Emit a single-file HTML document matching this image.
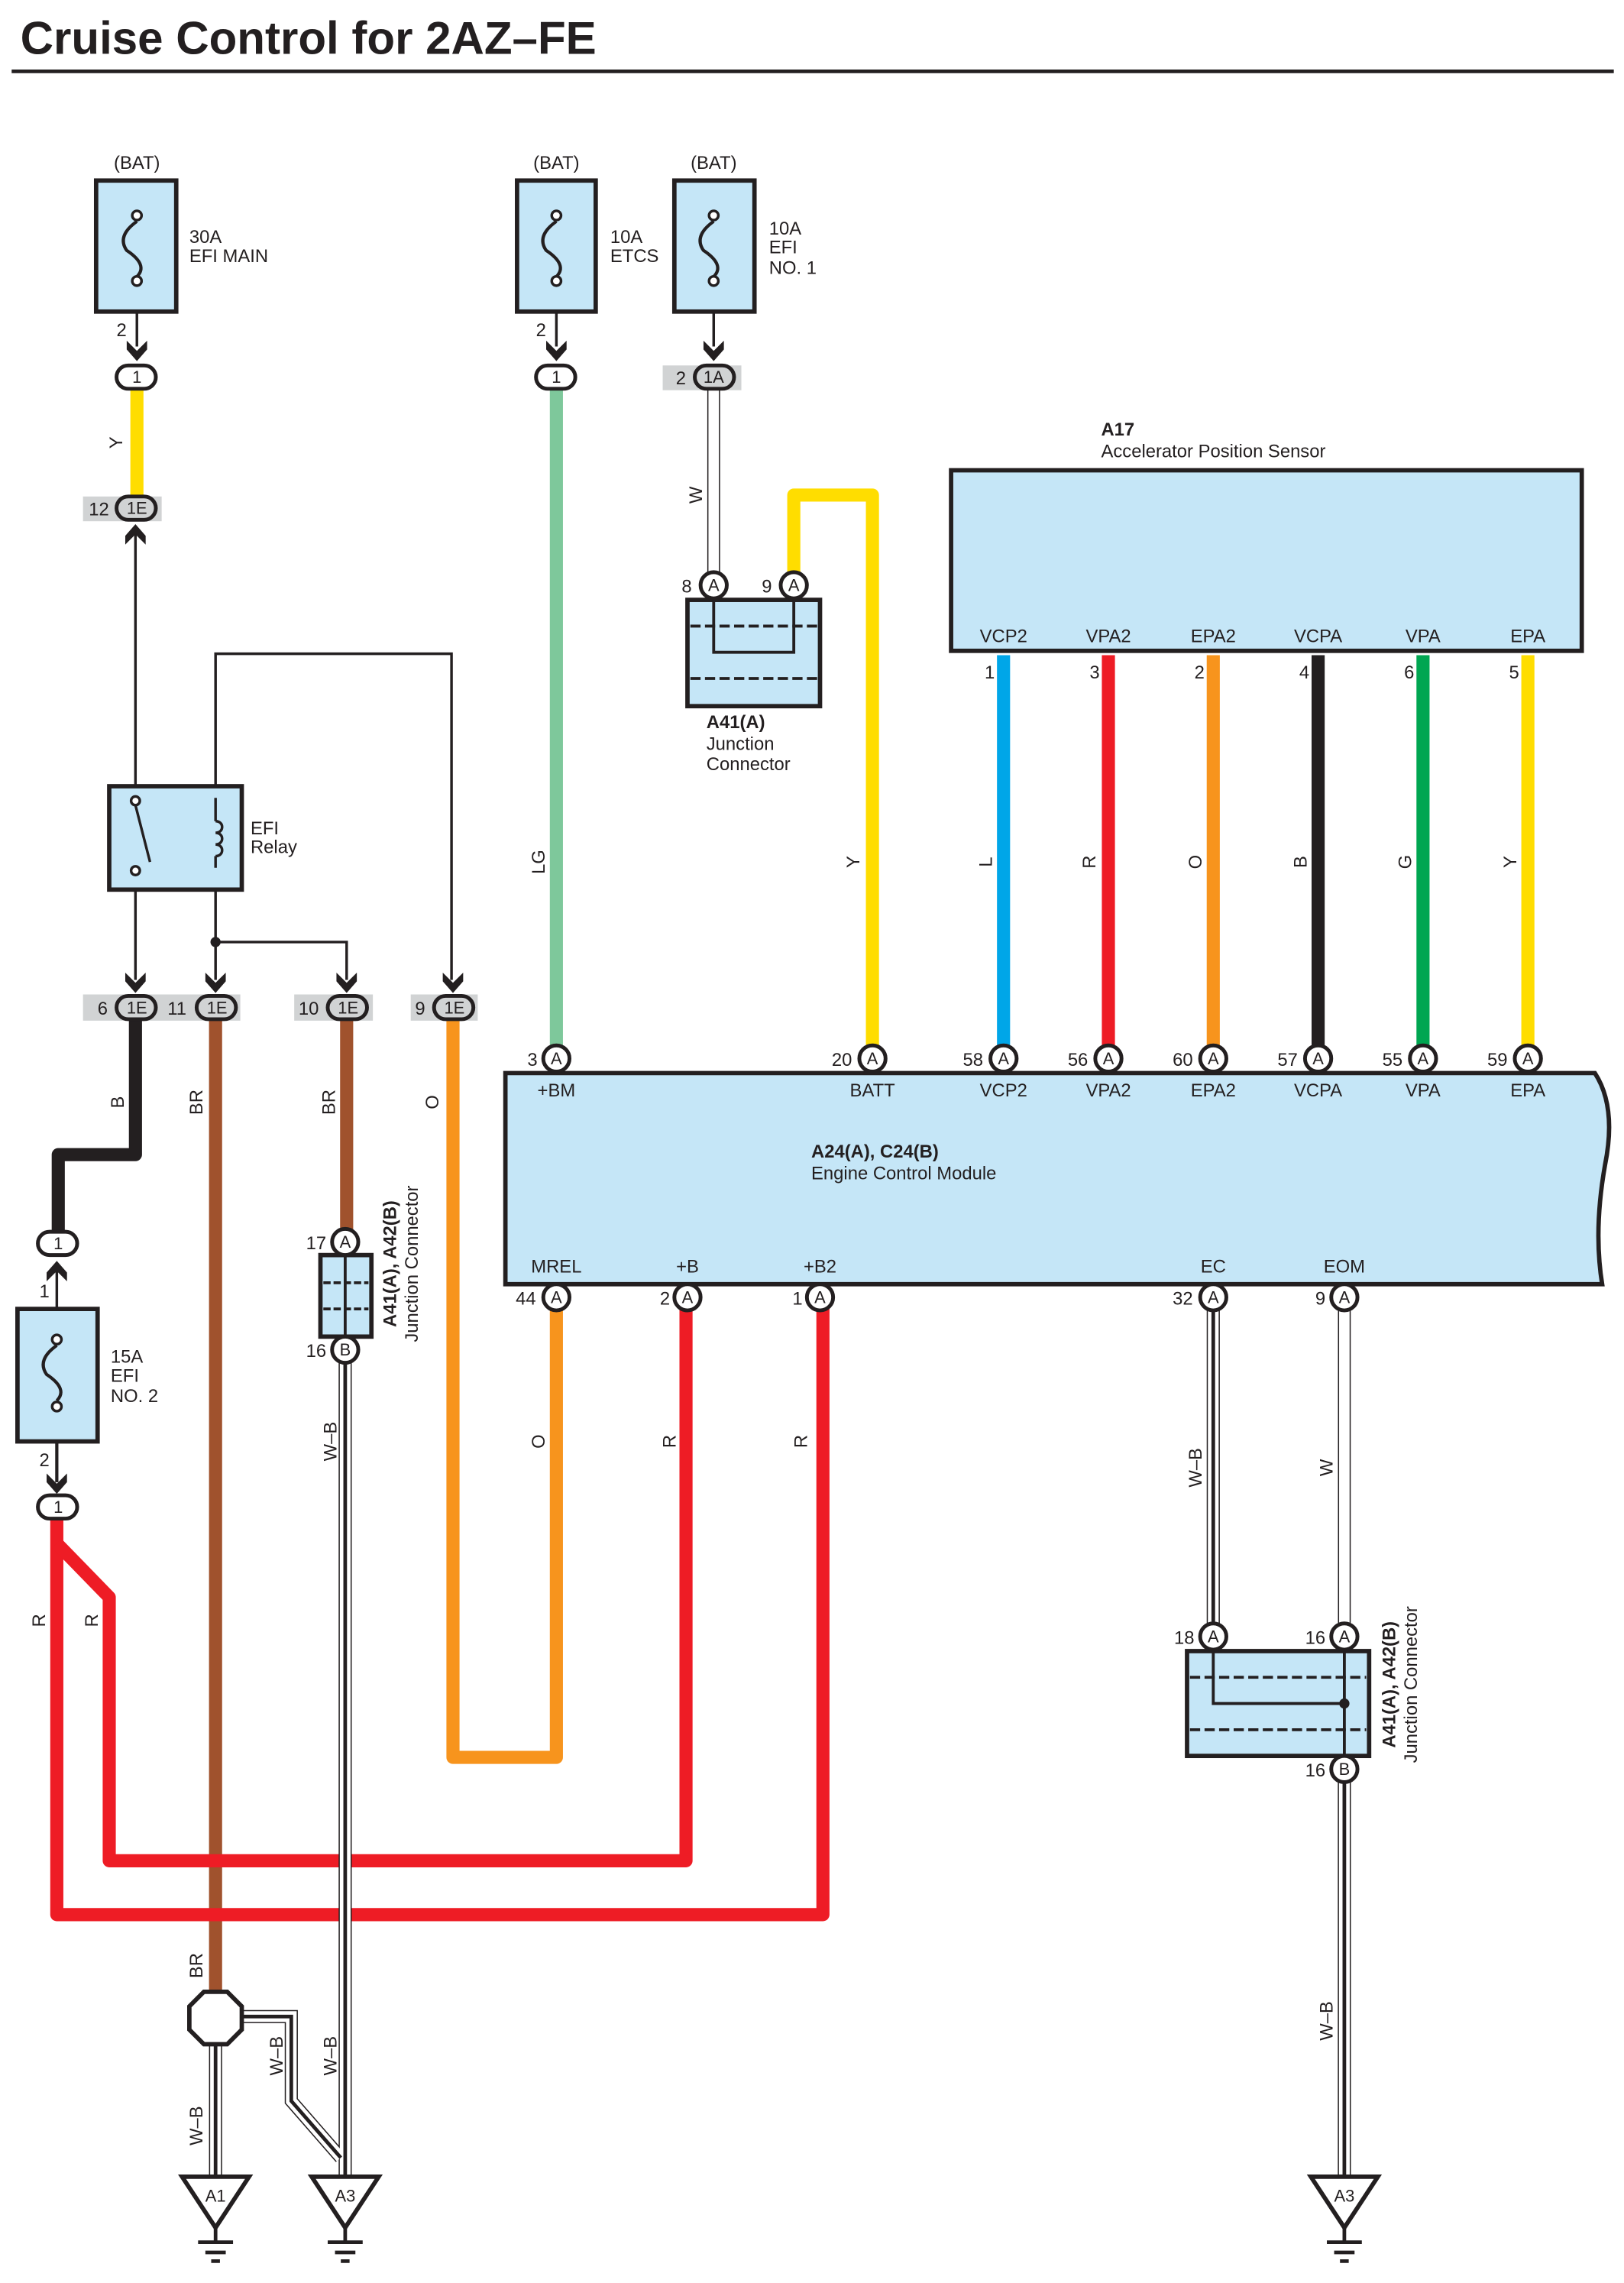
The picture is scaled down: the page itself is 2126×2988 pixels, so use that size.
<!DOCTYPE html>
<html><head><meta charset="utf-8"><style>
html,body{margin:0;padding:0;background:#fff}
svg{display:block}
text{font-family:"Liberation Sans",sans-serif;fill:#231f20}
.t{font-size:12.5px}
.p{font-size:11.5px;text-anchor:middle}
.b{font-weight:bold}
</style></head><body>
<svg width="2126" height="2988" viewBox="0 0 1115 1568" preserveAspectRatio="none" xmlns="http://www.w3.org/2000/svg">
<defs>
<g id="dn"><polygon points="-7,-8 0,-1 7,-8 7,-2 0,6 -7,-2" fill="#231f20"/></g>
<g id="up"><polygon points="-7,8 0,1 7,8 7,2 0,-6 -7,2" fill="#231f20"/></g>
</defs>
<!-- title -->
<text x="14" y="37" style="font-size:31.5px;font-weight:bold">Cruise Control for 2AZ–FE</text>
<line x1="8" y1="49" x2="1108" y2="49" stroke="#231f20" stroke-width="2.5"/>

<!-- grey connector backgrounds -->
<g fill="#d1d3d4">
<rect x="455" y="251" width="54" height="17"/>
<rect x="57" y="341" width="54" height="17"/>
<rect x="57" y="683" width="108" height="18"/>
<rect x="202" y="683" width="54" height="18"/>
<rect x="282" y="683" width="46" height="18"/>
</g>

<!-- colored wires -->
<g fill="none" stroke-linejoin="round" stroke-width="9">
<path d="M94,267 V341" stroke="#ffdd00"/>
<path d="M382,267 V720" stroke="#7ec89b"/>
<path d="M545,394 V340 H599 V720" stroke="#ffdd00"/>
<path d="M689,450 V720" stroke="#00a6e8"/>
<path d="M761,450 V720" stroke="#ee1c25"/>
<path d="M833,450 V720" stroke="#f7941d"/>
<path d="M905,450 V720" stroke="#231f20"/>
<path d="M977,450 V720" stroke="#00a651"/>
<path d="M1049,450 V720" stroke="#ffdd00"/>
<path d="M93,700 V793 H40 V846" stroke="#231f20"/>
<path d="M148,700 V1368" stroke="#a0522d"/>
<path d="M238,700 V845" stroke="#a0522d"/>
<path d="M311,700 V1207 H382 V898" stroke="#f7941d"/>
<path d="M39,1043 V1315 H565 V898" stroke="#ee1c25"/>
<path d="M39,1060 L75,1097 V1278 H471 V898" stroke="#ee1c25"/>
</g>

<!-- W double thin -->
<g fill="none" stroke="#231f20" stroke-width="0.8">
<line x1="486" y1="267" x2="486" y2="395"/><line x1="494" y1="267" x2="494" y2="395"/>
<line x1="919" y1="899" x2="919" y2="1116"/><line x1="927" y1="899" x2="927" y2="1116"/>
</g>
<!-- W-B wires -->
<g fill="none" stroke-linejoin="miter">
<g stroke="#231f20" stroke-width="9">
<path d="M237,936 V1495"/><path d="M833,899 V1116"/><path d="M923,1224 V1495"/><path d="M148,1403 V1495"/>
<path d="M166,1385 H200 V1443 L234,1482"/>
</g>
<g stroke="#fff" stroke-width="7.4">
<path d="M237,936 V1495"/><path d="M833,899 V1116"/><path d="M923,1224 V1495"/><path d="M148,1403 V1495"/>
<path d="M166,1385 H200 V1443 L234,1482"/>
</g>
<g stroke="#231f20" stroke-width="2.5">
<path d="M237,936 V1495"/><path d="M833,899 V1116"/><path d="M923,1224 V1495"/><path d="M148,1403 V1495"/>
<path d="M166,1385 H200 V1443 L234,1482"/>
</g>
</g>

<!-- thin black circuit lines -->
<g fill="none" stroke="#231f20" stroke-width="1.8">
<line x1="94" y1="195" x2="94" y2="238"/>
<line x1="382" y1="195" x2="382" y2="238"/>
<line x1="490" y1="195" x2="490" y2="238"/>
<line x1="93" y1="366" x2="93" y2="550"/>
<path d="M148,548 V449 H310 V673"/>
<line x1="93" y1="598" x2="93" y2="673"/>
<path d="M148,590 V673"/>
<path d="M148,647 H238 V673"/>
<line x1="39" y1="868" x2="39" y2="1018"/>
</g>
<circle cx="148" cy="647" r="3.5" fill="#231f20"/>

<!-- fuse boxes -->
<g fill="#c5e6f7" stroke="#231f20" stroke-width="3">
<rect x="66" y="124" width="55" height="90"/>
<rect x="355" y="124" width="54" height="90"/>
<rect x="463" y="124" width="55" height="90"/>
<rect x="12" y="899" width="55" height="91"/>
<rect x="75" y="540" width="91" height="71"/>
<rect x="472" y="412" width="91" height="73"/>
<rect x="653" y="323" width="433" height="124"/>
<rect x="220" y="862" width="35" height="56"/>
<rect x="815" y="1134" width="125" height="72"/>
</g>
<!-- ECM -->
<path d="M347,737 H1095 Q1110,760 1102,800 Q1094,845 1100,882 H347 Z" fill="#c5e6f7" stroke="#231f20" stroke-width="3"/>

<!-- fuse symbols -->
<g fill="none" stroke="#231f20" stroke-width="2.2">
<path d="M94,152 Q80,162 87,172 Q102,182 94,190"/>
<path d="M382,152 Q368,162 375,172 Q390,182 382,190"/>
<path d="M490,152 Q476,162 483,172 Q498,182 490,190"/>
<path d="M39,924 Q25,934 32,944 Q47,954 39,962"/>
<line x1="39" y1="990" x2="39" y2="1018"/>
</g>
<g fill="#fff" stroke="#231f20" stroke-width="1.8">
<circle cx="94" cy="148" r="3.2"/><circle cx="94" cy="193" r="3.2"/>
<circle cx="382" cy="148" r="3.2"/><circle cx="382" cy="193" r="3.2"/>
<circle cx="490" cy="148" r="3.2"/><circle cx="490" cy="193" r="3.2"/>
<circle cx="39" cy="920" r="3.2"/><circle cx="39" cy="966" r="3.2"/>
</g>

<!-- relay internals -->
<g fill="none" stroke="#231f20" stroke-width="1.8">
<line x1="93" y1="553" x2="103" y2="592"/>
<path d="M148,564 c6,0 6,8 0,8 c6,0 6,8 0,8 c6,0 6,8 0,8"/>
<path d="M148,548 V564 M148,588 V596"/>
</g>
<g fill="#fff" stroke="#231f20" stroke-width="1.8"><circle cx="93" cy="550" r="3"/><circle cx="93" cy="598" r="3"/></g>

<!-- junction A41 internals -->
<g fill="none" stroke="#231f20" stroke-width="2">
<line x1="474" y1="430" x2="561" y2="430" stroke-dasharray="7,3"/>
<line x1="474" y1="466" x2="561" y2="466" stroke-dasharray="7,3"/>
<path d="M490,412 V448 H545 V412"/>
<line x1="222" y1="881" x2="253" y2="881" stroke-dasharray="5,2"/>
<line x1="222" y1="899" x2="253" y2="899" stroke-dasharray="5,2"/>
<line x1="237" y1="862" x2="237" y2="918"/>
<line x1="817" y1="1152" x2="938" y2="1152" stroke-dasharray="7,3"/>
<line x1="817" y1="1188" x2="938" y2="1188" stroke-dasharray="7,3"/>
<path d="M833,1134 V1170 H923 M923,1134 V1206"/>
</g>
<circle cx="923" cy="1170" r="3.5" fill="#231f20"/>

<!-- arrows -->
<use href="#dn" x="94" y="242"/><use href="#dn" x="382" y="242"/><use href="#dn" x="490" y="242"/>
<use href="#up" x="93" y="366"/>
<use href="#dn" x="93" y="676"/><use href="#dn" x="148" y="676"/><use href="#dn" x="238" y="676"/><use href="#dn" x="311" y="676"/>
<use href="#up" x="39" y="872"/><use href="#dn" x="39" y="1020"/>

<!-- ovals -->
<g stroke="#231f20" stroke-width="2.6">
<rect x="80" y="251" width="27" height="16" rx="8" fill="#fff"/>
<rect x="368" y="251" width="27" height="16" rx="8" fill="#fff"/>
<rect x="477" y="251" width="27" height="16" rx="8" fill="#d1d3d4"/>
<rect x="80" y="341" width="27" height="16" rx="8" fill="#d1d3d4"/>
<rect x="80" y="684" width="27" height="16" rx="8" fill="#d1d3d4"/>
<rect x="135" y="684" width="27" height="16" rx="8" fill="#d1d3d4"/>
<rect x="225" y="684" width="27" height="16" rx="8" fill="#d1d3d4"/>
<rect x="298" y="684" width="27" height="16" rx="8" fill="#d1d3d4"/>
<rect x="26" y="846" width="27" height="16" rx="8" fill="#fff"/>
<rect x="26" y="1027" width="27" height="16" rx="8" fill="#fff"/>
</g>
<g class="p">
<text x="94" y="263" class="p">1</text><text x="382" y="263" class="p">1</text><text x="490" y="263" class="p">1A</text>
<text x="94" y="353" class="p">1E</text><text x="94" y="696" class="p">1E</text><text x="149" y="696" class="p">1E</text>
<text x="239" y="696" class="p">1E</text><text x="312" y="696" class="p">1E</text>
<text x="40" y="858" class="p">1</text><text x="40" y="1039" class="p">1</text>
</g>

<!-- pin circles -->
<g fill="#fff" stroke="#231f20" stroke-width="2.6">
<circle cx="490" cy="402" r="9"/><circle cx="545" cy="402" r="9"/>
<circle cx="382" cy="727" r="9"/><circle cx="599" cy="727" r="9"/><circle cx="689" cy="727" r="9"/><circle cx="761" cy="727" r="9"/>
<circle cx="833" cy="727" r="9"/><circle cx="905" cy="727" r="9"/><circle cx="977" cy="727" r="9"/><circle cx="1049" cy="727" r="9"/>
<circle cx="382" cy="891" r="9"/><circle cx="472" cy="891" r="9"/><circle cx="563" cy="891" r="9"/><circle cx="833" cy="891" r="9"/><circle cx="923" cy="891" r="9"/>
<circle cx="237" cy="853" r="9"/><circle cx="237" cy="927" r="9"/>
<circle cx="833" cy="1124" r="9"/><circle cx="923" cy="1124" r="9"/><circle cx="923" cy="1215" r="9"/>
</g>
<g>
<text x="490" y="406" class="p">A</text><text x="545" y="406" class="p">A</text>
<text x="382" y="731" class="p">A</text><text x="599" y="731" class="p">A</text><text x="689" y="731" class="p">A</text><text x="761" y="731" class="p">A</text>
<text x="833" y="731" class="p">A</text><text x="905" y="731" class="p">A</text><text x="977" y="731" class="p">A</text><text x="1049" y="731" class="p">A</text>
<text x="382" y="895" class="p">A</text><text x="472" y="895" class="p">A</text><text x="563" y="895" class="p">A</text><text x="833" y="895" class="p">A</text><text x="923" y="895" class="p">A</text>
<text x="237" y="857" class="p">A</text><text x="237" y="931" class="p">B</text>
<text x="833" y="1128" class="p">A</text><text x="923" y="1128" class="p">A</text><text x="923" y="1219" class="p">B</text>
</g>

<!-- octagon splice -->
<polygon points="140,1368 156,1368 166,1378 166,1394 156,1404 140,1404 130,1394 130,1378" fill="#fff" stroke="#231f20" stroke-width="3"/>

<!-- grounds -->
<g fill="#fff" stroke="#231f20" stroke-width="3">
<polygon points="125,1495 171,1495 148,1530"/>
<polygon points="214,1495 260,1495 237,1530"/>
<polygon points="900,1495 946,1495 923,1530"/>
</g>
<g stroke="#231f20" stroke-width="2.5">
<path d="M148,1530 V1540 M136,1540 H160 M141,1547 H155 M145,1553 H151"/>
<path d="M237,1530 V1540 M225,1540 H249 M230,1547 H244 M234,1553 H240"/>
<path d="M923,1530 V1540 M911,1540 H935 M916,1547 H930 M920,1553 H926"/>
</g>
<text x="148" y="1512" class="p">A1</text><text x="237" y="1512" class="p">A3</text><text x="923" y="1512" class="p">A3</text>

<!-- texts -->
<g class="t">
<text x="94" y="116" class="p" style="font-size:12.5px">(BAT)</text>
<text x="382" y="116" class="p" style="font-size:12.5px">(BAT)</text>
<text x="490" y="116" class="p" style="font-size:12.5px">(BAT)</text>
<text x="130" y="167">30A</text><text x="130" y="180">EFI MAIN</text>
<text x="419" y="167">10A</text><text x="419" y="180">ETCS</text>
<text x="528" y="161">10A</text><text x="528" y="174">EFI</text><text x="528" y="188">NO. 1</text>
<text x="80" y="231">2</text><text x="368" y="231">2</text>
<text x="464" y="264">2</text><text x="61" y="354">12</text>
<text x="172" y="573">EFI</text><text x="172" y="586">Relay</text>
<text x="67" y="697">6</text><text x="115" y="697">11</text><text x="205" y="697">10</text><text x="285" y="697">9</text>
<text x="468" y="407">8</text><text x="523" y="407">9</text>
<text x="485" y="500" class="b">A41(A)</text><text x="485" y="515">Junction</text><text x="485" y="529">Connector</text>
<text x="756" y="299" class="b">A17</text><text x="756" y="314">Accelerator Position Sensor</text>
</g>
<g class="t" text-anchor="middle">
<text x="689" y="441">VCP2</text><text x="761" y="441">VPA2</text><text x="833" y="441">EPA2</text><text x="905" y="441">VCPA</text><text x="977" y="441">VPA</text><text x="1049" y="441">EPA</text>
<text x="382" y="753">+BM</text><text x="599" y="753">BATT</text><text x="689" y="753">VCP2</text><text x="761" y="753">VPA2</text><text x="833" y="753">EPA2</text><text x="905" y="753">VCPA</text><text x="977" y="753">VPA</text><text x="1049" y="753">EPA</text>
<text x="382" y="874">MREL</text><text x="472" y="874">+B</text><text x="563" y="874">+B2</text><text x="833" y="874">EC</text><text x="923" y="874">EOM</text>
</g>
<g class="t" text-anchor="end">
<text x="683" y="466">1</text><text x="755" y="466">3</text><text x="827" y="466">2</text><text x="899" y="466">4</text><text x="971" y="466">6</text><text x="1043" y="466">5</text>
<text x="369" y="732">3</text><text x="585" y="732">20</text><text x="675" y="732">58</text><text x="747" y="732">56</text><text x="819" y="732">60</text><text x="891" y="732">57</text><text x="963" y="732">55</text><text x="1035" y="732">59</text>
<text x="368" y="896">44</text><text x="460" y="896">2</text><text x="551" y="896">1</text><text x="819" y="896">32</text><text x="910" y="896">9</text>
<text x="224" y="858">17</text><text x="224" y="932">16</text>
<text x="820" y="1129">18</text><text x="910" y="1129">16</text><text x="910" y="1220">16</text>
<text x="34" y="891">1</text><text x="34" y="1007">2</text>
</g>
<g class="t">
<text x="76" y="936">15A</text><text x="76" y="949">EFI</text><text x="76" y="963">NO. 2</text>
<text x="557" y="795" class="b">A24(A), C24(B)</text><text x="557" y="810">Engine Control Module</text>
</g>

<!-- rotated labels -->
<g class="t" text-anchor="middle">
<text transform="translate(84,304) rotate(-90)">Y</text>
<text transform="translate(482,340) rotate(-90)">W</text>
<text transform="translate(374,592) rotate(-90)">LG</text>
<text transform="translate(590,592) rotate(-90)">Y</text>
<text transform="translate(681,592) rotate(-90)">L</text>
<text transform="translate(752,592) rotate(-90)">R</text>
<text transform="translate(825,592) rotate(-90)">O</text>
<text transform="translate(897,592) rotate(-90)">B</text>
<text transform="translate(969,592) rotate(-90)">G</text>
<text transform="translate(1041,592) rotate(-90)">Y</text>
<text transform="translate(85,757) rotate(-90)">B</text>
<text transform="translate(139,757) rotate(-90)">BR</text>
<text transform="translate(230,757) rotate(-90)">BR</text>
<text transform="translate(301,757) rotate(-90)">O</text>
<text transform="translate(231,990) rotate(-90)">W–B</text>
<text transform="translate(374,990) rotate(-90)">O</text>
<text transform="translate(464,990) rotate(-90)">R</text>
<text transform="translate(554,990) rotate(-90)">R</text>
<text transform="translate(825,1008) rotate(-90)">W–B</text>
<text transform="translate(915,1008) rotate(-90)">W</text>
<text transform="translate(31,1113) rotate(-90)">R</text>
<text transform="translate(67,1113) rotate(-90)">R</text>
<text transform="translate(139,1350) rotate(-90)">BR</text>
<text transform="translate(139,1460) rotate(-90)">W–B</text>
<text transform="translate(194,1412) rotate(-90)">W–B</text>
<text transform="translate(231,1412) rotate(-90)">W–B</text>
<text transform="translate(915,1388) rotate(-90)">W–B</text>
<text transform="translate(272,868) rotate(-90)" class="b">A41(A), A42(B)</text>
<text transform="translate(287,868) rotate(-90)">Junction Connector</text>
<text transform="translate(958,1157) rotate(-90)" class="b">A41(A), A42(B)</text>
<text transform="translate(973,1157) rotate(-90)">Junction Connector</text>
</g>
</svg>
</body></html>
